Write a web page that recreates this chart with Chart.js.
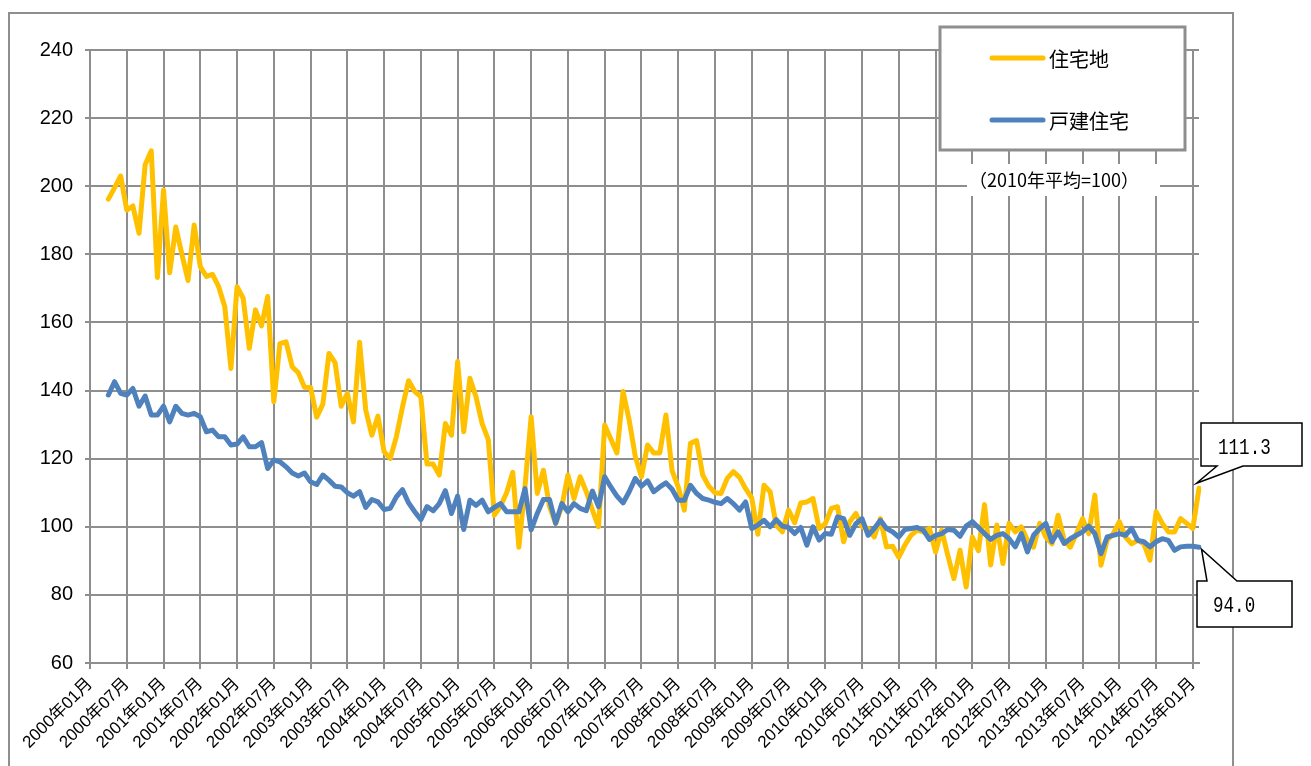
<!DOCTYPE html>
<html>
<head>
<meta charset="utf-8">
<script src="https://cdn.jsdelivr.net/npm/chart.js@4/dist/chart.umd.min.js"></script>
<style>
  body { margin: 0; background: #fff; }
  canvas { display: block; }
</style>
</head>
<body>
<canvas id="priceChart" width="1311" height="766"></canvas>
<script>
// monthly categories 2000年01月 .. 2015年02月
const months = [];
for (let y = 2000; y <= 2015; y++) {
    for (let m = 1; m <= 12; m++) {
        if (y === 2015 && m > 2) break;
        months.push(y + '年' + String(m).padStart(2, '0') + '月');
    }
}

const seriesNames = ['住宅地', '戸建住宅'];
const seriesColors = ['#FFC000', '#4F81BD'];

// 住宅地 (starts 2000年04月)
const landValues = [null, null, null,
    196.2, 199.5, 203, 193, 194.2, 186.2, 206.3, 210.4, 173.2,
    198.9, 174.6, 188, 180, 172.3, 188.6, 176.4, 173.5, 174.1, 170.5, 164.6, 146.5,
    170.5, 167.1, 152.4, 163.7, 159, 167.6, 136.7, 153.8, 154.3, 147, 145.2, 141,
    140.9, 132.2, 136, 150.9, 148.2, 135.4, 139.2, 130.8, 154.2, 134.3, 126.9, 132.5,
    122, 120.1, 126.4, 135.2, 142.9, 139.7, 138.2, 118.4, 118.4, 115.2, 130.3, 126.9,
    148.5, 127.9, 143.6, 138.2, 130.3, 125.6, 103.4, 106, 110, 116, 94, 112,
    132.3, 109.8, 116.6, 105.9, 101, 105.9, 115.2, 108.3, 114.7, 110.3, 104.9, 100,
    129.9, 125.8, 121.7, 139.7, 131.3, 120.6, 114.7, 124, 121.7, 121.7, 132.8, 116.5,
    111.7, 104.9, 124.5, 125.3, 115.2, 111.9, 110, 109.8, 114.2, 116.2, 114.5, 111.2,
    108.5, 97.8, 112.2, 110.3, 100.5, 98.5, 104.9, 101.2, 107, 107.3, 108.3, 99.5,
    100.9, 105.4, 105.9, 95.6, 101.5, 103.9, 100, 99.5, 97, 102.4, 94.1, 94.3,
    91, 94.6, 97.5, 99, 98.5, 99.5, 92.6, 99, 91.6, 84.8, 93.1, 82.3,
    97, 93, 106.5, 88.8, 100.5, 89.2, 101, 98.5, 100, 96, 94, 101,
    97, 95, 103.4, 96, 94, 98, 102.4, 98, 109.3, 88.7, 96, 98,
    101.5, 97, 95, 96, 95, 90.2, 104.4, 101, 98.5, 98.5, 102.4, 101,
    99.5, 111.3];

// 戸建住宅
const houseValues = [null, null, null,
    138.7, 142.6, 139.2, 138.7, 140.6, 135.4, 138.4, 132.8, 132.8,
    135.4, 130.8, 135.4, 133.3, 132.8, 133.3, 132.3, 127.9, 128.4, 126.4, 126.4, 124,
    124.3, 126.4, 123.5, 123.5, 124.7, 117.1, 119.6, 119.1, 117.6, 115.8, 114.9, 115.8,
    113.2, 112.4, 115.2, 113.7, 111.9, 111.7, 110, 109, 110.3, 105.7, 108, 107.3,
    105.1, 105.4, 108.8, 110.9, 107, 104.4, 102.1, 105.9, 104.7, 106.8, 110.6, 103.9,
    109, 99.2, 107.8, 106.3, 107.8, 104.4, 105.7, 106.8, 104.4, 104.4, 104.4, 111.2,
    99.1, 103.9, 108, 108, 101, 106.8, 104.4, 106.8, 105.4, 104.7, 110.5, 105.9,
    114.7, 111.7, 109, 107, 110.3, 114.2, 111.9, 113.5, 110.3, 111.7, 112.9, 111,
    107.8, 107.8, 112.2, 109.8, 108.3, 107.8, 107.2, 106.8, 108.3, 106.8, 104.9, 107.3,
    99.5, 100.5, 101.9, 100, 102.1, 100.2, 99.8, 98, 99.8, 94.6, 100, 96.1,
    98, 97.8, 102.9, 102.4, 97.5, 100.9, 102.4, 97.5, 99.5, 101.9, 99.5, 98.5,
    97, 99.2, 99.5, 99.8, 99, 96.3, 97.5, 98, 99.2, 99, 97.2, 100.2,
    101.5, 99.8, 98, 96.3, 97.5, 98, 96.5, 94.1, 98, 92.6, 97.5, 99.5,
    101, 95.6, 98.5, 95.1, 96.5, 97.5, 98.5, 100.2, 98, 92.1, 97, 97.5,
    98, 97.5, 99.5, 96, 95.6, 94.1, 95.6, 96.5, 96, 93.1, 94.1, 94.3,
    94.3, 94.0];

const yMin = 60, yMax = 240, yStep = 20;
const lastLabels = ['111.3', '94.0'];
const noteText = '（2010年平均=100）';

const gridColor = '#8e8e8e';

function drawCallout(ctx, box, tip, base, fromBottom, text, textX, textY) {
    ctx.beginPath();
    if (fromBottom) {
        const by = box.y + box.h;
        ctx.moveTo(box.x, box.y);
        ctx.lineTo(box.x + box.w, box.y);
        ctx.lineTo(box.x + box.w, by);
        ctx.lineTo(base[1], by);
        ctx.lineTo(tip.x, tip.y);
        ctx.lineTo(base[0], by);
        ctx.lineTo(box.x, by);
    } else {
        ctx.moveTo(box.x, box.y);
        ctx.lineTo(base[0], box.y);
        ctx.lineTo(tip.x, tip.y);
        ctx.lineTo(base[1], box.y);
        ctx.lineTo(box.x + box.w, box.y);
        ctx.lineTo(box.x + box.w, box.y + box.h);
        ctx.lineTo(box.x, box.y + box.h);
    }
    ctx.closePath();
    ctx.fillStyle = '#fff';
    ctx.fill();
    ctx.strokeStyle = '#000';
    ctx.lineWidth = 1.5;
    ctx.stroke();
    // narrow, tall monospace digits like the original
    ctx.save();
    ctx.translate(textX, textY);
    ctx.scale(0.8, 1);
    ctx.fillStyle = '#000';
    ctx.font = '22px "Liberation Mono", "DejaVu Sans Mono", monospace';
    ctx.textAlign = 'left';
    ctx.textBaseline = 'middle';
    ctx.fillText(text, 0, 0);
    ctx.restore();
}

const overlayPlugin = {
    id: 'overlay',
    beforeDraw(chart) {
        const ctx = chart.ctx;
        ctx.save();
        ctx.fillStyle = '#fff';
        ctx.fillRect(0, 0, chart.width, chart.height);
        ctx.strokeStyle = '#8e8e8e';
        ctx.lineWidth = 2;
        ctx.strokeRect(9, 13, 1224, 800);
        ctx.restore();
    },
    afterDraw(chart) {
        const ctx = chart.ctx;
        ctx.save();

        // legend box
        ctx.fillStyle = '#fff';
        ctx.fillRect(940, 27, 245, 123);
        ctx.strokeStyle = '#8e8e8e';
        ctx.lineWidth = 3;
        ctx.strokeRect(940, 27, 245, 123);
        chart.data.datasets.forEach((ds, k) => {
            const y = 58 + k * 62;
            ctx.strokeStyle = ds.borderColor;
            ctx.lineWidth = 5;
            ctx.lineCap = 'round';
            ctx.beginPath();
            ctx.moveTo(992, y);
            ctx.lineTo(1043, y);
            ctx.stroke();
            ctx.fillStyle = '#000';
            ctx.font = '20px "Noto Sans CJK JP", sans-serif';
            ctx.textAlign = 'left';
            ctx.textBaseline = 'middle';
            ctx.fillText(ds.label, 1049, y + 1);
        });

        // base note
        ctx.fillStyle = '#fff';
        ctx.fillRect(967, 164, 193, 32);
        ctx.fillStyle = '#000';
        ctx.font = '18px "Noto Sans CJK JP", sans-serif';
        ctx.textAlign = 'center';
        ctx.textBaseline = 'middle';
        ctx.fillText(noteText, 1054, 180);

        // callouts on the last points
        const last = months.length - 1;
        const p0 = chart.getDatasetMeta(0).data[last];
        const p1 = chart.getDatasetMeta(1).data[last];
        drawCallout(ctx, {x: 1201, y: 423, w: 101, h: 43},
            {x: p0.x - 2.5, y: p0.y - 5}, [1217, 1243], true,
            lastLabels[0], 1218, 448);
        drawCallout(ctx, {x: 1197, y: 581, w: 95, h: 46},
            {x: p1.x + 2.5, y: p1.y + 2}, [1207, 1237], false,
            lastLabels[1], 1213, 606);

        ctx.restore();
    }
};

const ctx = document.getElementById('priceChart').getContext('2d');

new Chart(ctx, {
    type: 'line',
    data: {
        labels: months,
        datasets: [
            {
                label: seriesNames[0],
                data: landValues,
                borderColor: seriesColors[0],
                backgroundColor: seriesColors[0],
                order: 1
            },
            {
                label: seriesNames[1],
                data: houseValues,
                borderColor: seriesColors[1],
                backgroundColor: seriesColors[1],
                order: 0
            }
        ]
    },
    options: {
        responsive: false,
        animation: false,
        layout: { padding: { left: 0, top: 50, right: 112, bottom: 0 } },
        elements: {
            line: { borderWidth: 5, tension: 0, borderJoinStyle: 'round', borderCapStyle: 'round' },
            point: { radius: 0, hoverRadius: 0 }
        },
        plugins: {
            legend: { display: false },
            tooltip: { enabled: false }
        },
        scales: {
            x: {
                type: 'category',
                offset: false,
                afterFit: scale => { scale.height = 103; },
                grid: {
                    color: c => (c.index % 6 === 0 ? gridColor : 'rgba(0,0,0,0)'),
                    lineWidth: 2,
                    tickLength: 6
                },
                border: { color: gridColor, width: 2 },
                ticks: {
                    autoSkip: false,
                    maxRotation: 45,
                    minRotation: 45,
                    padding: 5,
                    color: '#000',
                    font: { family: '"Liberation Sans", "Noto Sans CJK JP", sans-serif', size: 17 },
                    callback: (v, i) => (i % 6 === 0 ? months[i] : '')
                }
            },
            y: {
                min: yMin,
                max: yMax,
                afterFit: scale => { scale.width = 90; },
                grid: { color: gridColor, lineWidth: 2, tickLength: 5 },
                border: { color: gridColor, width: 2 },
                ticks: {
                    stepSize: yStep,
                    padding: 12,
                    color: '#000',
                    font: { family: '"Liberation Sans", Arial, sans-serif', size: 20 }
                }
            }
        }
    },
    plugins: [overlayPlugin]
});
</script>
</body>
</html>
